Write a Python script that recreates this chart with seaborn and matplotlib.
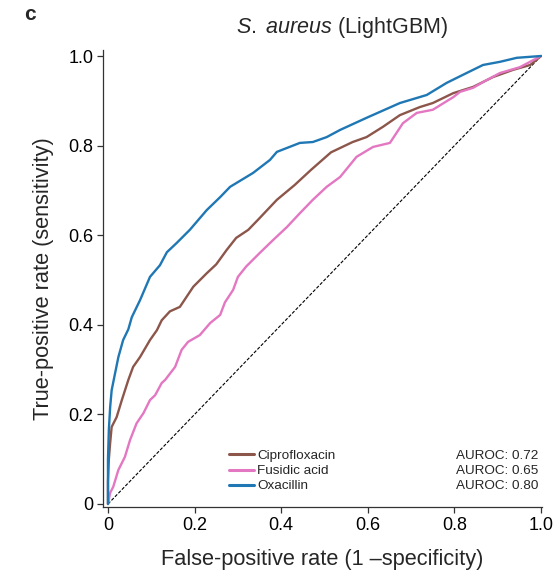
import numpy as np
import pandas as pd
import matplotlib
matplotlib.use("Agg")
import matplotlib.pyplot as plt
import seaborn as sns

# ---- data ----
drugs = ["Ciprofloxacin", "Fusidic acid", "Oxacillin"]
aurocs = ["0.72", "0.65", "0.80"]
colors = ["#8c564b", "#e377c2", "#1f77b4"]

cipro_fpr = [0.0, 0.0, 0.002, 0.005, 0.0085, 0.020, 0.032, 0.047, 0.058, 0.074, 0.097, 0.113,
             0.124, 0.143, 0.166, 0.197, 0.228, 0.250, 0.274, 0.296, 0.324, 0.346, 0.390,
             0.431, 0.469, 0.515, 0.565, 0.597, 0.635, 0.674, 0.720, 0.750, 0.797, 0.843,
             0.889, 0.935, 0.975, 1.0]
cipro_tpr = [0.0, 0.050, 0.100, 0.136, 0.172, 0.194, 0.232, 0.277, 0.306, 0.328, 0.366, 0.388,
             0.410, 0.430, 0.440, 0.485, 0.515, 0.535, 0.567, 0.594, 0.612, 0.634, 0.679,
             0.712, 0.746, 0.785, 0.808, 0.819, 0.842, 0.868, 0.886, 0.895, 0.917, 0.931,
             0.953, 0.969, 0.980, 1.0]

fusidic_fpr = [0.0, 0.005, 0.012, 0.024, 0.039, 0.051, 0.066, 0.082, 0.097, 0.109, 0.124,
               0.132, 0.155, 0.170, 0.185, 0.212, 0.236, 0.259, 0.270, 0.289, 0.300, 0.319,
               0.350, 0.381, 0.413, 0.443, 0.473, 0.505, 0.536, 0.574, 0.612, 0.651, 0.681,
               0.713, 0.750, 0.797, 0.813, 0.843, 0.874, 0.905, 0.951, 1.0]
fusidic_tpr = [0.0, 0.025, 0.038, 0.076, 0.105, 0.143, 0.180, 0.203, 0.232, 0.243, 0.270,
               0.277, 0.306, 0.344, 0.362, 0.377, 0.404, 0.422, 0.450, 0.478, 0.507, 0.530,
               0.560, 0.589, 0.618, 0.649, 0.679, 0.708, 0.730, 0.775, 0.797, 0.806, 0.850,
               0.873, 0.880, 0.908, 0.920, 0.929, 0.946, 0.962, 0.975, 1.0]

oxa_fpr = [0.0, 0.0, 0.002, 0.005, 0.0085, 0.016, 0.024, 0.035, 0.047, 0.055, 0.074, 0.097,
           0.120, 0.136, 0.159, 0.189, 0.228, 0.259, 0.282, 0.335, 0.374, 0.390, 0.443,
           0.473, 0.505, 0.536, 0.597, 0.674, 0.736, 0.782, 0.828, 0.866, 0.905, 0.944, 1.0]
oxa_tpr = [0.0, 0.100, 0.165, 0.216, 0.254, 0.290, 0.328, 0.366, 0.390, 0.417, 0.455, 0.507,
           0.533, 0.562, 0.583, 0.612, 0.656, 0.685, 0.708, 0.739, 0.768, 0.786, 0.806,
           0.808, 0.819, 0.835, 0.862, 0.895, 0.913, 0.940, 0.962, 0.980, 0.987, 0.996, 1.0]

ticks = [0, 0.2, 0.4, 0.6, 0.8, 1.0]
tick_labels = ["0", "0.2", "0.4", "0.6", "0.8", "1.0"]

# ---- build long table ----
frames = []
for name, fpr, tpr in zip(drugs, [cipro_fpr, fusidic_fpr, oxa_fpr],
                          [cipro_tpr, fusidic_tpr, oxa_tpr]):
    frames.append(pd.DataFrame({"fpr": fpr, "tpr": tpr, "drug": name}))
df = pd.concat(frames, ignore_index=True)

sns.set_style("ticks")
plt.rcParams["font.family"] = ["Liberation Sans", "DejaVu Sans"]
plt.rcParams["mathtext.fontset"] = "custom"
plt.rcParams["mathtext.rm"] = "Liberation Sans"
plt.rcParams["mathtext.it"] = "Liberation Sans:italic"
plt.rcParams["axes.edgecolor"] = "#333333"
plt.rcParams["xtick.color"] = "#333333"
plt.rcParams["ytick.color"] = "#333333"
plt.rcParams["xtick.labelcolor"] = "black"
plt.rcParams["ytick.labelcolor"] = "black"

W, H = 559, 576
fig = plt.figure(figsize=(W / 100, H / 100), dpi=100)
ax = fig.add_axes([103 / W, 1 - 507 / H, (541.5 - 103) / W, (507 - 50) / H])

# diagonal
ax.plot([0, 1], [0, 1], color="black", lw=0.8, ls=(0, (3, 1.5)), zorder=1)

sns.lineplot(data=df, x="fpr", y="tpr", hue="drug", hue_order=drugs,
             palette=colors, sort=False, estimator=None, units="drug",
             lw=1.7, ax=ax, legend=True, zorder=3)

ax.set_xlim(-0.0115, 1.001)
ax.set_ylim(-0.0067, 1.0134)
ax.set_xticks(ticks)
ax.set_xticklabels(tick_labels)
ax.set_yticks(ticks)
ax.set_yticklabels(tick_labels)
ax.tick_params(axis="both", direction="out", length=4, width=0.9, labelsize=13, pad=3)
for s in ["top", "right"]:
    ax.spines[s].set_visible(False)
for s in ["left", "bottom"]:
    ax.spines[s].set_linewidth(0.9)

ax.set_xlabel("False-positive rate (1 \u2013specificity)", fontsize=15.7, labelpad=11)
ax.set_ylabel("True-positive rate (sensitivity)", fontsize=15.7, labelpad=10)

leg = ax.legend(loc="lower left", bbox_to_anchor=(0.288, 0.032), frameon=False,
                fontsize=9.7, handlelength=1.8, handletextpad=0.25,
                labelspacing=0.2, borderaxespad=0, borderpad=0)
for line in leg.get_lines():
    line.set_linewidth(2.2)

for i, a in enumerate(aurocs):
    ax.text(0.993, 0.1116 - i * 0.0328, f"AUROC: {a}", transform=ax.transAxes,
            ha="right", va="center", fontsize=9.7)

fig.text(342 / W, 1 - 28 / H, "$\\it{S.}$ $\\it{aureus}$ (LightGBM)", ha="center",
         va="center", fontsize=15.5)
fig.text(24 / W, 1 - 15 / H, "c", ha="left", va="center", fontsize=15, fontweight="bold")

fig.savefig("out.png", dpi=100)
